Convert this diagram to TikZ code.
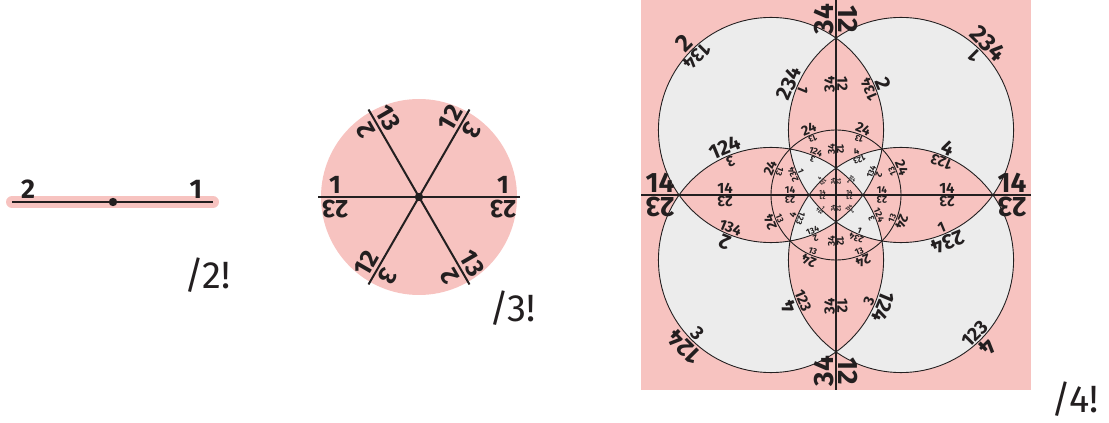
\documentclass[tikz,border=0pt]{standalone}
\usepackage{fontspec}
\setmainfont{Fira Sans}
\usetikzlibrary{calc}
\definecolor{pk}{RGB}{247,195,192}
\definecolor{gr}{RGB}{236,236,236}
\definecolor{ink}{RGB}{35,31,32}
\newcounter{labc}
\tikzset{lab/.style={anchor=south, inner xsep=0pt, text depth=0pt, text=ink},
  bigtxt/.style={anchor=base west, inner sep=0pt, text=ink, font=\fontsize{38}{38}\selectfont}}
% #1 x, #2 y, #3 direction, #4 left text, #5 left digit height, #6 right text, #7 right digit height, #8 extra gap
\newcommand\twolab[8]{%
  \pgfmathsetmacro\fsA{1.75*#5}%
  \pgfmathsetmacro\gA{0.1*#5+#8}%
  \pgfmathsetmacro\fsB{1.75*#7}%
  \pgfmathsetmacro\gB{0.1*#7+#8}%
  \stepcounter{labc}%
  \node[lab,rotate=#3,inner ysep=\gA pt,font=\bfseries\fontsize{\fsA}{\fsA}\selectfont] (lab\arabic{labc}a) at (#1,#2) {#4};
  \node[lab,rotate=#3+180,inner ysep=\gB pt,font=\bfseries\fontsize{\fsB}{\fsB}\selectfont] (lab\arabic{labc}b) at (#1,#2) {#6};
}
\begin{document}
\begin{tikzpicture}[x=1pt,y=1pt]
\useasboundingbox (0,0) rectangle (1109,423);
% ---------------- panel /2!
\coordinate (p2a) at (12,221);
\coordinate (p2b) at (213,221);
\coordinate (p2c) at (113,221);
\draw[pk, line width=12pt, line cap=round] (p2a) -- (p2b);
\draw[ink, line width=1.8pt] (p2a) -- (p2b);
\fill[ink] (p2c) circle (4.2);
\node[lab, inner ysep=3.2pt, font=\bfseries\fontsize{27}{27}\selectfont] (ltwo) at (28,221) {2};
\node[lab, inner ysep=3.2pt, font=\bfseries\fontsize{27}{27}\selectfont] (lone) at (196,221) {1};
\node[bigtxt] (t2) at (184,134) {/2!};
% ---------------- panel /3!
\coordinate (o3) at (419,226);
\fill[pk] (o3) circle (98);
\foreach \ang in {0,60,120}
  \draw[ink, line width=2pt] ($(o3)+(\ang:101)$) -- ($(o3)+(\ang+180:101)$);
\fill[ink] (o3) circle (4.2);
\foreach \ang/\lt/\rt in {0/1/23, 60/12/3, 120/2/13}
  \foreach \s in {84,-84} {
    \pgfmathsetmacro\px{419+\s*cos(\ang)}
    \pgfmathsetmacro\py{226+\s*sin(\ang)}
    \twolab{\px}{\py}{\ang}{\lt}{14.5}{\rt}{14.5}{2.3}
  }
\node[bigtxt] (t3) at (489,101) {/3!};
% ---------------- panel /4!
\def\aU{65}
\coordinate (o4) at (836,228);
\fill[pk] (641,33) rectangle (1031,423);
\fill[gr, even odd rule] (771,293) circle (112.58) (901,293) circle (112.58)
   (771,163) circle (112.58) (901,163) circle (112.58);
\draw[ink, line width=0.9pt] (771,293) circle (112.58) (901,293) circle (112.58)
   (771,163) circle (112.58) (901,163) circle (112.58);
\draw[ink, line width=0.9pt] (o4) circle (65);
\draw[ink, line width=1.2pt] (641,228) -- (1031,228);
\draw[ink, line width=1.2pt] (836,33) -- (836,423);
% line labels
\foreach \t/\h in {2.707/16, 1.707/8.5, 0.707/5.7, 0.207/3.4, -2.707/16, -1.707/8.5, -0.707/5.7, -0.207/3.4} {
  \pgfmathsetmacro\px{836+\t*\aU}
  \pgfmathsetmacro\py{228+\t*\aU}
  \twolab{\px}{228}{0}{14}{\h}{23}{\h}{0.4}
  \twolab{836}{\py}{90}{34}{\h}{12}{\h}{0.4}
}
% central circle labels
\foreach \k in {0,...,7} {
  \pgfmathsetmacro\tha{22.5+45*\k}
  \pgfmathsetmacro\px{836+\aU*cos(\tha)}
  \pgfmathsetmacro\py{228+\aU*sin(\tha)}
  \twolab{\px}{\py}{\tha+90}{13}{5}{24}{8}{0.4}
}
% big circle labels
\foreach \sx/\sy/\al/\tin/\tout in {-1/1/135/134/2, 1/1/45/1/234, -1/-1/225/3/124, 1/-1/315/123/4}
  \foreach \dd/\hi/\ho in {0/11/14, 112.5/8.5/12, -112.5/8.5/12, 157.5/4.8/5.3, -157.5/4.8/5.3, 180/2.8/2.8} {
    \pgfmathsetmacro\tha{\al+\dd}
    \pgfmathsetmacro\px{836+\aU*(\sx+1.7320508*cos(\tha))}
    \pgfmathsetmacro\py{228+\aU*(\sy+1.7320508*sin(\tha))}
    \twolab{\px}{\py}{\tha+90}{\tin}{\hi}{\tout}{\ho}{0.4}
  }
\node[bigtxt] (t4) at (1051,10) {/4!};
\end{tikzpicture}
\end{document}
